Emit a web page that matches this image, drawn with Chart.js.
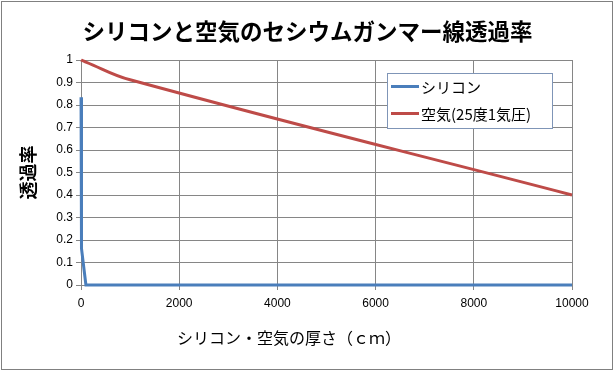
<!DOCTYPE html>
<html><head><meta charset="utf-8">
<script src="https://cdn.jsdelivr.net/npm/chart.js@4"></script>
<style>html,body{margin:0;padding:0;background:#fff}#wrap{width:615px;height:372px;position:relative}</style>
</head><body><div id="wrap"><canvas id="c" width="615" height="372"></canvas></div>
<script>
const titleText = 'シリコンと空気のセシウムガンマー線透過率';
const xTitle = 'シリコン・空気の厚さ（ｃｍ）';
const yTitle = '透過率';
const seriesNames = ['シリコン', '空気(25度1気圧)'];
const thickness = [1, 10, 100, 1000, 10000];
const silicon = [0.834, 0.163, 0, 0, 0];
const air = [1.0, 0.999, 0.991, 0.912, 0.40];
const xTicks = [0, 2000, 4000, 6000, 8000, 10000];
const yTicks = [0, 0.1, 0.2, 0.3, 0.4, 0.5, 0.6, 0.7, 0.8, 0.9, 1];
const yTickLabels = ['0', '0.1', '0.2', '0.3', '0.4', '0.5', '0.6', '0.7', '0.8', '0.9', '1'];

const colors = ['#4a7ebb', '#be4b48'];
const gridColor = '#868686';
const jp = '"MS PGothic","Noto Sans CJK JP",sans-serif';

const extras = {
  id: 'extras',
  afterDatasetsDraw(chart) {
    const ctx = chart.ctx;
    ctx.save();
    ctx.fillStyle = '#fff';
    ctx.fillRect(387, 73, 165, 55);
    ctx.strokeStyle = '#7f95b7';
    ctx.lineWidth = 1;
    ctx.strokeRect(387.5, 73.5, 165, 55);
    const ys = [86.5, 113.5];
    chart.data.datasets.forEach((ds, i) => {
      ctx.strokeStyle = ds.borderColor;
      ctx.lineWidth = 3;
      ctx.beginPath();
      ctx.moveTo(391, ys[i]);
      ctx.lineTo(419, ys[i]);
      ctx.stroke();
      ctx.fillStyle = '#000';
      ctx.font = '15px ' + jp;
      ctx.textAlign = 'left';
      ctx.textBaseline = 'middle';
      ctx.fillText(ds.label, 421, ys[i] + 1);
    });
    ctx.restore();
  },
  afterDraw(chart) {
    const ctx = chart.ctx;
    ctx.save();
    ctx.fillStyle = '#000';
    ctx.font = '16px ' + jp;
    ctx.textAlign = 'center';
    ctx.textBaseline = 'middle';
    ctx.fillText(xTitle, 289, 338);
    ctx.strokeStyle = '#808080';
    ctx.lineWidth = 1;
    ctx.strokeRect(1.5, 1.5, 611, 368);
    ctx.restore();
  }
};

new Chart(document.getElementById('c'), {
  type: 'line',
  data: {
    datasets: [
      { label: seriesNames[0], data: thickness.map((x, i) => ({x, y: silicon[i]})),
        borderColor: colors[0], backgroundColor: colors[0], borderWidth: 3,
        pointRadius: 0, tension: 0, clip: 5 },
      { label: seriesNames[1], data: thickness.map((x, i) => ({x, y: air[i]})),
        borderColor: colors[1], backgroundColor: colors[1], borderWidth: 3,
        pointRadius: 0, tension: 0.4, clip: 5 }
    ]
  },
  options: {
    responsive: false,
    animation: false,
    devicePixelRatio: 1,
    layout: { padding: 0 },
    plugins: {
      legend: { display: false },
      tooltip: { enabled: false },
      title: {
        display: true, text: titleText, color: '#000',
        font: { family: jp, size: 22.5, weight: 'bold', lineHeight: 1.2 },
        padding: { top: 17.5, bottom: 15.5 }
      }
    },
    scales: {
      x: {
        type: 'linear', min: 0, max: 10000,
        afterBuildTicks: s => { s.ticks = xTicks.map(v => ({ value: v })); },
        afterFit: s => { s.height = 87; },
        grid: { color: gridColor, tickLength: 5, tickColor: gridColor },
        border: { color: gridColor },
        ticks: { color: '#000', font: { family: 'Liberation Sans, Arial, sans-serif', size: 12 }, padding: 6, maxRotation: 0,
          callback: v => String(v) }
      },
      y: {
        type: 'linear', min: 0, max: 1,
        afterBuildTicks: s => { s.ticks = yTicks.map(v => ({ value: v })); },
        afterFit: s => { s.width = 81; },
        grid: { color: gridColor, tickLength: 5, tickColor: gridColor },
        border: { color: gridColor },
        ticks: { color: '#000', font: { family: 'Liberation Sans, Arial, sans-serif', size: 12 }, padding: 3,
          callback: (v) => yTickLabels[yTicks.findIndex(t => Math.abs(t - v) < 1e-9)] },
        title: { display: true, text: yTitle, color: '#000',
          font: { family: jp, size: 18, weight: 'bold', lineHeight: 1.2 }, padding: { top: 17 } }
      },
      yr: {
        type: 'linear', position: 'right', min: 0, max: 1,
        afterFit: s => { s.width = 43; },
        grid: { display: false },
        border: { display: false },
        ticks: { display: false }
      }
    }
  },
  plugins: [extras]
});
</script></body></html>
